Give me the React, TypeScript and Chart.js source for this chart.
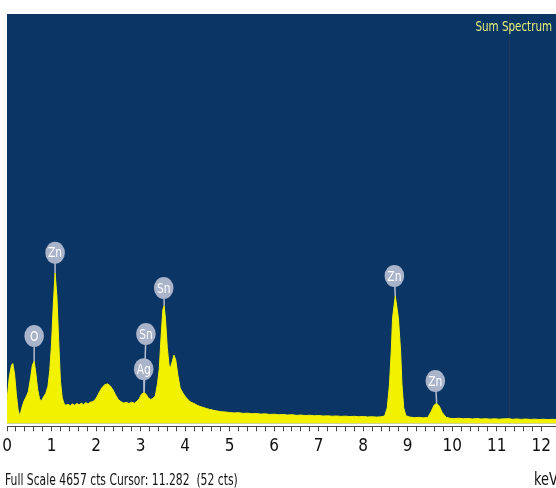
import React, { useEffect, useRef } from 'react';
import { Chart, registerables } from 'chart.js';

Chart.register(...registerables);

// ---- Data ----
const energies = [
  0.0, 0.05, 0.1, 0.13, 0.17, 0.21, 0.25, 0.29, 0.33, 0.38, 0.43, 0.48, 0.53, 0.57, 0.61, 0.65, 0.69, 0.73, 0.77,
  0.82, 0.87, 0.92, 0.96, 1.0, 1.04, 1.08, 1.12, 1.16, 1.2, 1.24, 1.28, 1.32, 1.37, 1.42, 1.47, 1.52, 1.57, 1.62,
  1.67, 1.72, 1.77, 1.82, 1.87, 1.92, 1.97, 2.02, 2.08, 2.14, 2.2, 2.26, 2.32, 2.38, 2.44, 2.5, 2.56, 2.62, 2.68,
  2.74, 2.8, 2.86, 2.92, 2.97, 3.02, 3.08, 3.13, 3.18, 3.23, 3.28, 3.33, 3.38, 3.42, 3.46, 3.5, 3.53, 3.56, 3.6,
  3.64, 3.67, 3.71, 3.75, 3.79, 3.84, 3.89, 3.95, 4.01, 4.07, 4.13, 4.2, 4.27, 4.34, 4.41, 4.48, 4.55, 4.62, 4.69,
  4.76, 4.8, 4.9, 5.0, 5.1, 5.2, 5.3, 5.4, 5.5, 5.6, 5.7, 5.8, 5.9, 6.0, 6.1, 6.2, 6.3, 6.4, 6.5, 6.6, 6.7, 6.8,
  6.9, 7.0, 7.1, 7.2, 7.3, 7.4, 7.5, 7.6, 7.7, 7.8, 7.9, 8.0, 8.1, 8.2, 8.3, 8.4, 8.48, 8.54, 8.59, 8.63, 8.66,
  8.72, 8.79, 8.84, 8.87, 8.91, 8.96, 9.05, 9.15, 9.25, 9.35, 9.45, 9.53, 9.59, 9.65, 9.71, 9.77, 9.86, 9.95,
  10.05, 10.15, 10.25, 10.35, 10.45, 10.55, 10.65, 10.75, 10.85, 10.95, 11.05, 11.15, 11.28, 11.35, 11.45, 11.55,
  11.65, 11.75, 11.85, 11.95, 12.05, 12.15, 12.25, 12.33,
];
const counts = [
  250, 520, 660, 680, 560, 330, 150, 80, 170, 250, 300, 360, 520, 660, 707, 560, 380, 280, 250,
  300, 340, 420, 600, 900, 1350, 1710, 1450, 950, 480, 290, 225, 205, 215, 200, 220, 205, 225, 210,
  228, 212, 235, 218, 240, 245, 262, 300, 360, 410, 440, 448, 425, 380, 320, 270, 245, 230, 238,
  225, 240, 228, 250, 280, 330, 352, 325, 285, 270, 285, 310, 450, 620, 980, 1290, 1340, 1180, 860,
  660, 630, 700, 775, 720, 540, 400, 345, 300, 265, 240, 225, 205, 190, 180, 168, 158, 150, 142,
  136, 132, 128, 122, 118, 121, 112, 115, 108, 111, 104, 107, 100, 103, 97, 99, 94, 97, 90, 93, 88, 91,
  85, 88, 82, 85, 80, 83, 78, 81, 76, 79, 74, 77, 72, 74, 70, 73, 82, 175, 445, 822, 1200,
  1449, 1200, 822, 445, 175, 85, 70, 64, 67, 62, 66, 137, 205, 228, 194, 125, 68, 56,
  53, 57, 51, 55, 49, 54, 48, 52, 47, 51, 46, 50, 52, 45, 49, 44,
  48, 43, 47, 42, 46, 41, 45, 42,
];

const majorTicks = [0, 1, 2, 3, 4, 5, 6, 7, 8, 9, 10, 11, 12];
const fullScale = 4657;
const axisMaxKeV = 12.33;
const cursorKeV = 11.282;
const cursorCounts = 52;
const spectrumTitle = 'Sum Spectrum';
const unitLabel = 'keV';

// element markers
const labelTexts = ['O', 'Zn', 'Sn', 'Ag', 'Sn', 'Zn', 'Zn'];
const labelKeV = [0.61, 1.08, 3.12, 3.07, 3.52, 8.7, 9.62];
const labelCounts = [993, 1940, 1015, 616, 1540, 1677, 480];
const anchorKeV = [0.61, 1.08, 3.08, 3.08, 3.53, 8.72, 9.65];
const anchorCounts = [707, 1710, 352, 352, 1340, 1449, 228];

const BG = '#0b3565';
const YELLOW = '#f2f200';
const NARROW = '"Liberation Sans Narrow", "Arial Narrow", "DejaVu Sans Condensed", Arial, sans-serif';

function narrowText(ctx: any, text: string, x: number, y: number, align: string, sx: number) {
  ctx.save();
  ctx.translate(x, y);
  ctx.scale(sx, 1);
  ctx.textAlign = align;
  ctx.fillText(text, 0, 0);
  ctx.restore();
}

const edsPlugin = {
  id: 'edsDecor',
  beforeDraw(chart: any) {
    const { ctx, chartArea: ca, scales } = chart;
    ctx.save();
    ctx.fillStyle = '#ffffff';
    ctx.fillRect(0, 0, chart.width, chart.height);
    const y0 = scales.y.getPixelForValue(0);
    ctx.fillStyle = BG;
    ctx.fillRect(ca.left, ca.top, ca.right - ca.left, y0 - ca.top);
    ctx.restore();
  },
  beforeDatasetsDraw(chart: any) {
    const { ctx, chartArea: ca, scales } = chart;
    const x = Math.round(scales.x.getPixelForValue(cursorKeV)) + 0.5;
    const y0 = scales.y.getPixelForValue(0);
    ctx.save();
    ctx.strokeStyle = '#223a5a';
    ctx.lineWidth = 1;
    ctx.beginPath();
    ctx.moveTo(x, ca.top);
    ctx.lineTo(x, y0);
    ctx.stroke();
    ctx.restore();
  },
  afterDatasetsDraw(chart: any) {
    const { ctx, chartArea: ca, scales } = chart;
    const xs = scales.x;
    const ys = scales.y;
    ctx.save();
    ctx.strokeStyle = '#b4bccd';
    ctx.lineWidth = 1.5;
    for (let i = 0; i < labelTexts.length; i++) {
      const cx = xs.getPixelForValue(labelKeV[i]);
      const cy = ys.getPixelForValue(labelCounts[i]);
      const ax = xs.getPixelForValue(anchorKeV[i]);
      const ay = ys.getPixelForValue(anchorCounts[i]);
      ctx.beginPath();
      ctx.moveTo(cx, cy);
      ctx.lineTo(ax, ay);
      ctx.stroke();
    }
    for (let i = 0; i < labelTexts.length; i++) {
      const cx = xs.getPixelForValue(labelKeV[i]);
      const cy = ys.getPixelForValue(labelCounts[i]);
      ctx.fillStyle = '#a9b3c9';
      ctx.beginPath();
      ctx.ellipse(cx, cy, 9.8, 11, 0, 0, Math.PI * 2);
      ctx.fill();
      ctx.fillStyle = '#ffffff';
      ctx.font = '14px ' + NARROW;
      ctx.textBaseline = 'middle';
      narrowText(ctx, labelTexts[i], cx, cy + 1, 'center', 0.85);
    }
    ctx.fillStyle = '#e4f07a';
    ctx.font = '14px ' + NARROW;
    ctx.textBaseline = 'middle';
    narrowText(ctx, spectrumTitle, ca.right - 4, 27, 'right', 0.82);
    ctx.restore();
  },
  afterDraw(chart: any) {
    const { ctx } = chart;
    ctx.save();
    ctx.fillStyle = '#111111';
    ctx.textBaseline = 'alphabetic';
    ctx.font = '15px ' + NARROW;
    narrowText(
      ctx,
      `Full Scale ${fullScale} cts Cursor: ${cursorKeV.toFixed(3)}  (${cursorCounts} cts)`,
      5,
      485,
      'left',
      0.8
    );
    ctx.font = '17px ' + NARROW;
    narrowText(ctx, unitLabel, 558, 485, 'right', 0.85);
    ctx.restore();
  },
};

export default function App() {
  const ref = useRef<HTMLCanvasElement | null>(null);
  useEffect(() => {
    if (!ref.current) return;
    const points = energies.map((e, i) => ({ x: e, y: counts[i] }));
    const chart = new Chart(ref.current, {
      type: 'line',
      data: {
        datasets: [
          {
            data: points,
            borderColor: YELLOW,
            backgroundColor: YELLOW,
            borderWidth: 1,
            pointRadius: 0,
            fill: 'origin',
            tension: 0,
          },
        ],
      },
      options: {
        responsive: false,
        animation: false,
        devicePixelRatio: 1,
        layout: { padding: { left: 7, top: 14, right: 0, bottom: 27 } },
        plugins: { legend: { display: false }, tooltip: { enabled: false } },
        scales: {
          x: {
            type: 'linear',
            min: 0,
            max: axisMaxKeV,
            ticks: {
              stepSize: 0.2,
              autoSkip: false,
              maxRotation: 0,
              padding: 0,
              color: '#111',
              font: { family: NARROW, size: 17, lineHeight: 1.75 },
              callback: (v: any) => {
                const r = Math.round(Number(v));
                return Math.abs(Number(v) - r) < 1e-6 && majorTicks.includes(r) ? String(r) : '';
              },
            },
            grid: { drawOnChartArea: false, drawTicks: true, tickLength: 5, color: '#444' },
            border: { display: true, color: '#444', width: 1 },
          },
          y: { display: false, min: -34, max: fullScale },
        },
      },
      plugins: [edsPlugin],
    } as any);
    return () => chart.destroy();
  }, []);
  return (
    <div style={{ position: 'fixed', left: 0, top: 0, width: 556, height: 488, background: '#fff' }}>
      <canvas ref={ref} width={556} height={488} style={{ display: 'block' }} />
    </div>
  );
}
